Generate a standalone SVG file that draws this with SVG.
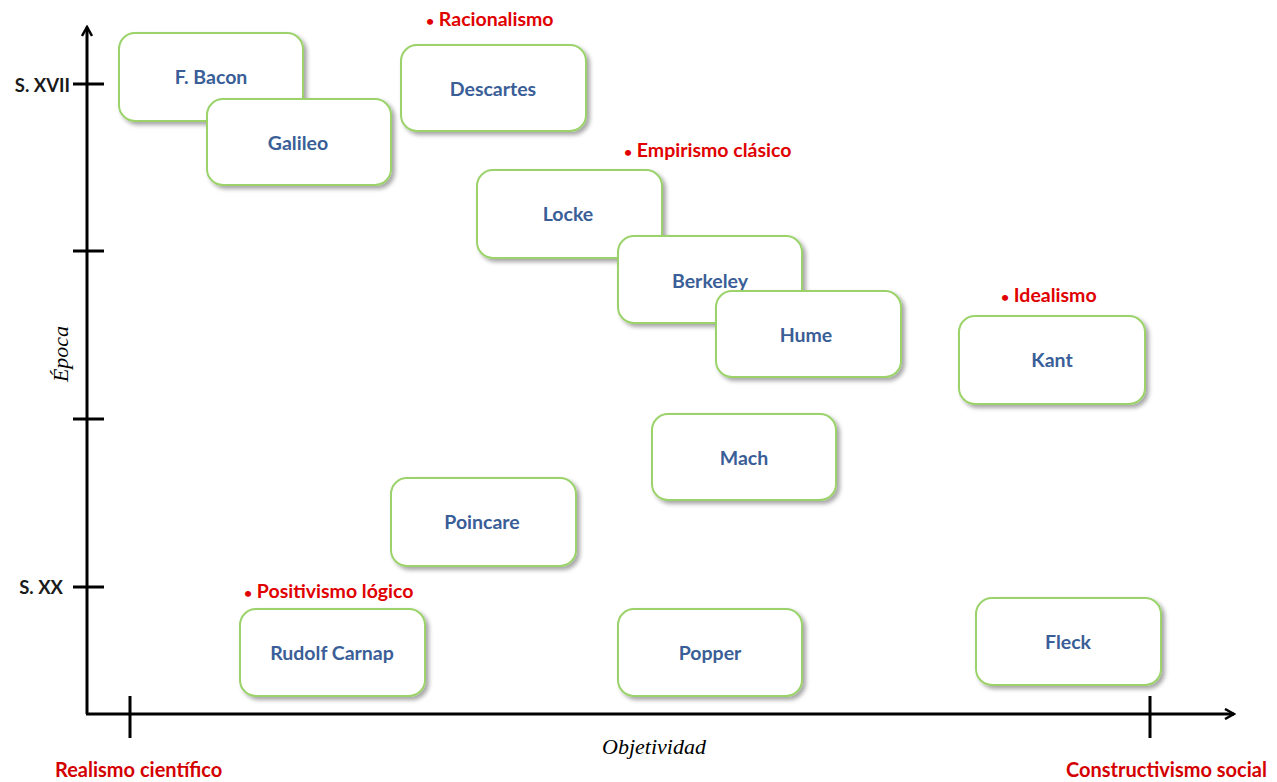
<svg xmlns="http://www.w3.org/2000/svg" width="1277" height="782" viewBox="0 0 1277 782">
<defs>
<filter id="sh" x="-10%" y="-10%" width="125%" height="130%">
<feDropShadow dx="3" dy="3" stdDeviation="2" flood-color="#000" flood-opacity="0.35"/>
</filter>
<marker id="arr" viewBox="0 0 12 12" refX="10" refY="6" markerWidth="12" markerHeight="12" markerUnits="userSpaceOnUse" orient="auto">
<path d="M1,1 L10,6 L1,11" fill="none" stroke="#000" stroke-width="2.5"/>
</marker>
<style>
.box{fill:#fff;stroke:#9bd36b;stroke-width:2;filter:url(#sh)}
.nt{font-family:Lato,"Liberation Sans",sans-serif;font-weight:bold;font-size:19.5px;fill:#3a5e97;text-anchor:middle;dominant-baseline:central}
.red{font-family:Lato,"Liberation Sans",sans-serif;font-weight:bold;font-size:19.5px;fill:#e00000}
.red2{font-family:Lato,"Liberation Sans",sans-serif;font-weight:bold;font-size:20px;fill:#d40000}
.bul{font-size:14px}
.ax{stroke:#000;stroke-width:3;fill:none}
.lbl{font-family:Lato,"Liberation Sans",sans-serif;font-weight:bold;font-size:18.5px;fill:#1a1a1a;text-anchor:end;dominant-baseline:central}
.it{font-family:"Liberation Serif",serif;font-style:italic;font-size:22px;fill:#000;text-anchor:middle}
</style>
</defs>
<rect width="1277" height="782" fill="#fff"/>
<g id="axes">
<path class="ax" d="M87,714 L87,27" marker-end="url(#arr)"/>
<path class="ax" d="M86,714 L1234,714" marker-end="url(#arr)"/>
<path class="ax" d="M73,84 H104 M73,251 H104 M73,419 H104 M73,587 H104"/>
<path class="ax" d="M130,696 V738 M1150,696 V738"/>
<text class="lbl" x="70" y="85">S. XVII</text>
<text class="lbl" x="63" y="587">S. XX</text>
<text class="it" transform="translate(68,354) rotate(-90)">Época</text>
<text class="it" x="654" y="754">Objetividad</text>
<text class="red2" x="55" y="777">Realismo científico</text>
<text class="red2" x="1066" y="777">Constructivismo social</text>
</g>
<g id="bacon"><rect class="box" x="119" y="33" width="184" height="88" rx="16"/><text class="nt" x="211" y="76">F. Bacon</text></g>
<g id="galileo"><rect class="box" x="207" y="99" width="184" height="86" rx="16"/><text class="nt" x="298" y="142">Galileo</text></g>
<g id="descartes"><rect class="box" x="401" y="45" width="185" height="86" rx="16"/><text class="nt" x="493" y="88">Descartes</text></g>
<g id="locke"><rect class="box" x="477" y="170" width="185" height="88" rx="16"/><text class="nt" x="568" y="213">Locke</text></g>
<g id="berkeley"><rect class="box" x="618" y="236" width="184" height="87" rx="16"/><text class="nt" x="710" y="280">Berkeley</text></g>
<g id="hume"><rect class="box" x="716" y="291" width="185" height="86" rx="16"/><text class="nt" x="806" y="334">Hume</text></g>
<g id="kant"><rect class="box" x="959" y="316" width="186" height="88" rx="16"/><text class="nt" x="1052" y="359">Kant</text></g>
<g id="mach"><rect class="box" x="652" y="414" width="184" height="86" rx="16"/><text class="nt" x="744" y="457">Mach</text></g>
<g id="poincare"><rect class="box" x="391" y="478" width="185" height="88" rx="16"/><text class="nt" x="482" y="521">Poincare</text></g>
<g id="carnap"><rect class="box" x="240" y="609" width="185" height="87" rx="16"/><text class="nt" x="332" y="652">Rudolf Carnap</text></g>
<g id="popper"><rect class="box" x="618" y="609" width="184" height="87" rx="16"/><text class="nt" x="710" y="652">Popper</text></g>
<g id="fleck"><rect class="box" x="976" y="598" width="185" height="87" rx="16"/><text class="nt" x="1068" y="641">Fleck</text></g>
<g id="schools">
<text class="red" x="426" y="26"><tspan class="bul">•</tspan> Racionalismo</text>
<text class="red" x="624" y="157"><tspan class="bul">•</tspan> Empirismo clásico</text>
<text class="red" x="1001" y="302"><tspan class="bul">•</tspan> Idealismo</text>
<text class="red" x="244" y="598"><tspan class="bul">•</tspan> Positivismo lógico</text>
</g>
</svg>
